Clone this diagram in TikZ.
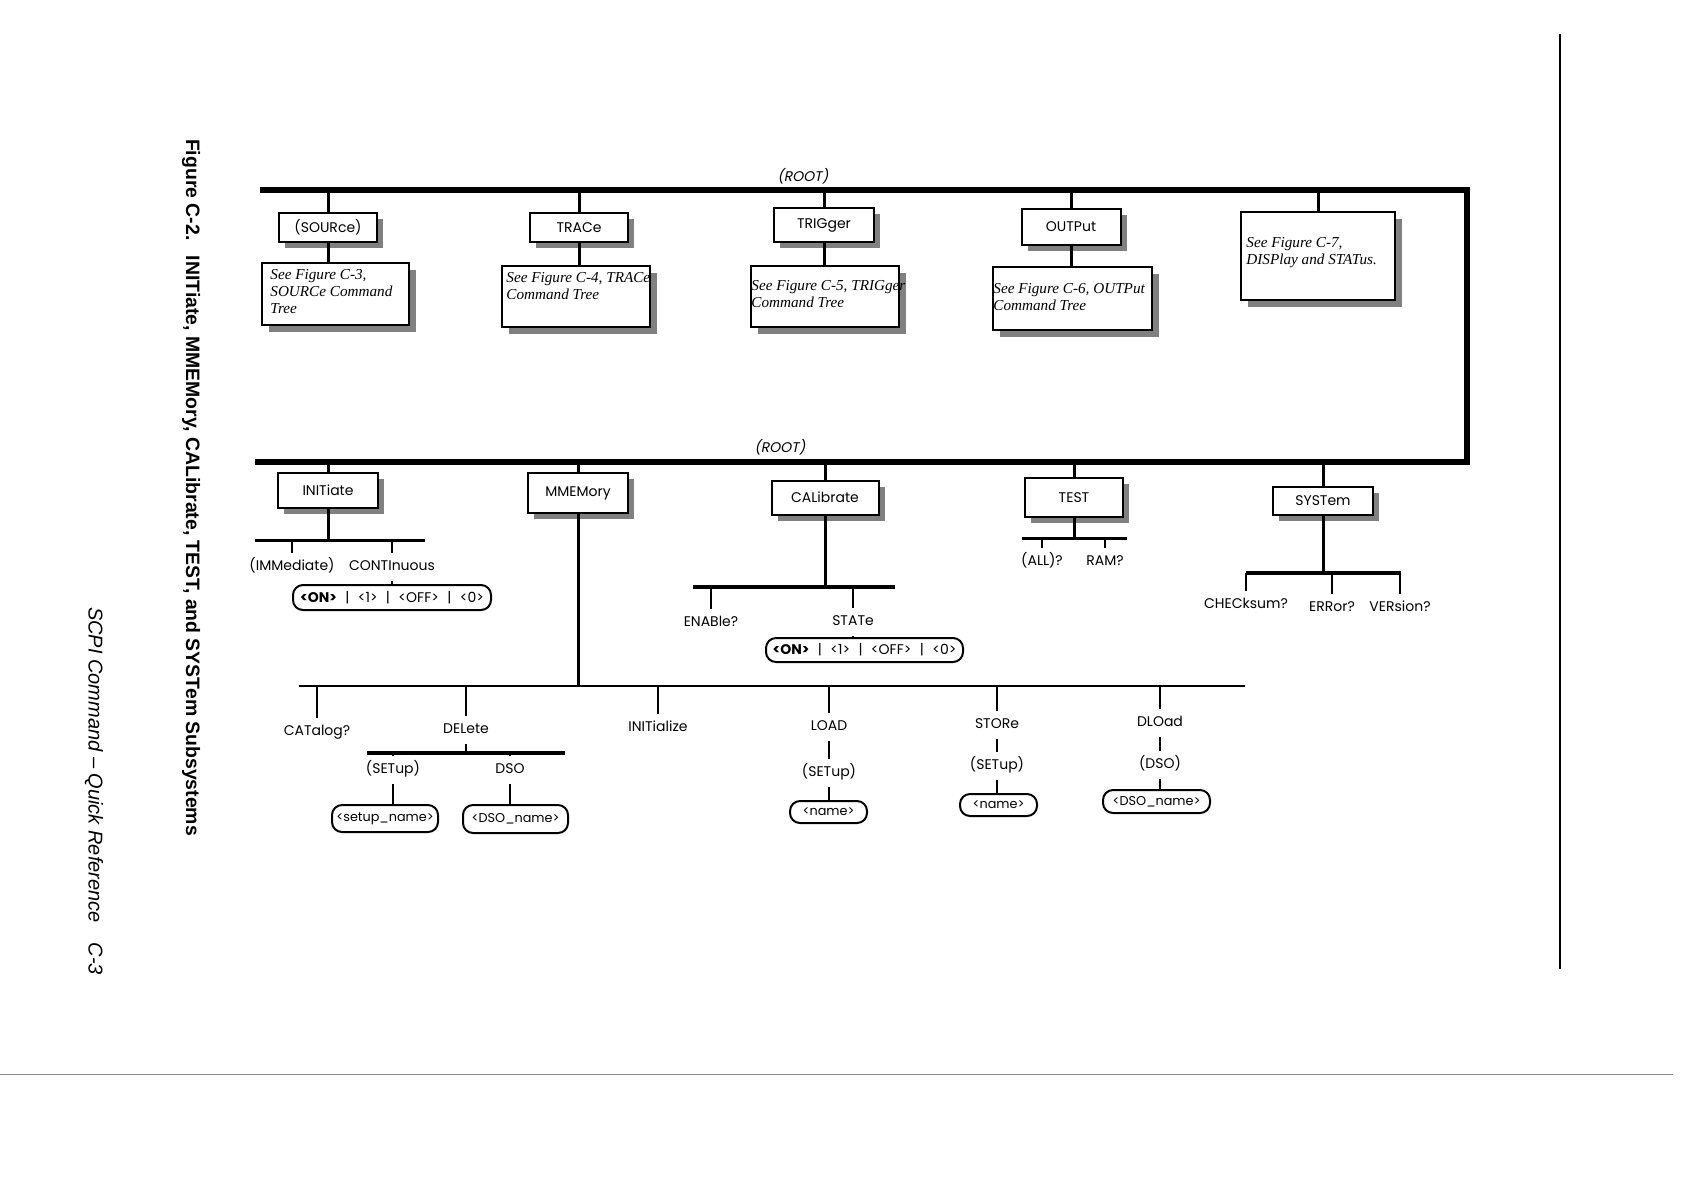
\documentclass[tikz,border=0pt]{standalone}
\usepackage{fontspec}
\newfontfamily\geo{Poppins}
\newfontfamily\geoit{Poppins}[FakeSlant=0.2]
\newfontfamily\arialf{Liberation Sans}
\newfontfamily\timesf{Liberation Serif}
\usetikzlibrary{shadows}
\newcommand\vsep{\hspace{0.6em}|\hspace{0.6em}}
\begin{document}
\begin{tikzpicture}[x=0.5pt,y=-0.5pt,
  cmd/.style={draw, line width=1pt, fill=white, inner sep=0pt,
    font=\geo\fontsize{7}{8}\selectfont,
    drop shadow={shadow xshift=3pt, shadow yshift=-3pt, fill=black!50, opacity=1}},
  seebox/.style={draw, line width=1pt, fill=white, inner sep=0pt,
    drop shadow={shadow xshift=3.5pt, shadow yshift=-3.5pt, fill=black!50, opacity=1}},
  seetext/.style={anchor=north west, inner sep=0pt, align=left,
    font=\timesf\itshape\fontsize{7.6}{8.5}\selectfont},
  lbl/.style={inner xsep=1pt, inner ysep=3.5pt, text height=5pt, text depth=1.5pt,
    font=\geo\fontsize{7}{8}\selectfont},
  valbox/.style={draw, line width=1pt, rounded corners=5pt, inner sep=0pt, fill=white,
    font=\geo\fontsize{7}{8}\selectfont},
  namebox/.style={valbox, font=\geo\fontsize{6.4}{8}\selectfont},
  rootlbl/.style={inner sep=1pt, font=\geoit\fontsize{7}{8}\selectfont},
  rootbar/.style={line width=3pt, line join=miter},
  stem/.style={line width=1.5pt},
  subbar/.style={line width=2pt},
  tick/.style={line width=1.3pt},
]
\useasboundingbox (0,0) rectangle (1684,1190);

% ---------------- root bars ----------------
\coordinate (rtl) at (260,190);
\coordinate (rtr) at (1467,190);
\coordinate (rbr) at (1467,462);
\coordinate (rbl) at (255,462);
\draw[rootbar] (rtl) -- (rtr) -- (rbr) -- (rbl);
\node[rootlbl] (root1) at (803,176) {(ROOT)};
\node[rootlbl] (root2) at (780,447) {(ROOT)};

% ---------------- top row ----------------
\node[cmd, minimum width=49pt, minimum height=14.5pt] (src) at (328,227.5) {(SOURce)};
\node[cmd, minimum width=49pt, minimum height=14.5pt] (trc) at (579,227.5) {TRACe};
\node[cmd, minimum width=50pt, minimum height=17pt] (trg) at (824,225) {TRIGger};
\node[cmd, minimum width=49.5pt, minimum height=18pt] (out) at (1071,226.5) {OUTPut};

\node[seebox, minimum width=73.5pt, minimum height=31pt] (srcsee) at (335.5,294) {};
\node[seebox, minimum width=74pt, minimum height=30.5pt] (trcsee) at (576,296.5) {};
\node[seebox, minimum width=74pt, minimum height=30.5pt] (trgsee) at (825,296.5) {};
\node[seebox, minimum width=79.5pt, minimum height=31.5pt] (outsee) at (1072.5,298.5) {};
\node[seebox, minimum width=77pt, minimum height=44pt] (disp) at (1318,256) {};

\node[seetext] (srcseet) at ([xshift=4.5pt,yshift=-3.5pt]srcsee.north west) {See Figure C-3,\\SOURCe Command\\Tree};
\node[seetext] (trcseet) at ([xshift=2.5pt,yshift=-3.5pt]trcsee.north west) {See Figure C-4, TRACe\\Command Tree};
\node[seetext] (trgseet) at ([xshift=0.5pt,yshift=-7.5pt]trgsee.north west) {See Figure C-5, TRIGger\\Command Tree};
\node[seetext] (outseet) at ([xshift=0.5pt,yshift=-8.5pt]outsee.north west) {See Figure C-6, OUTPut\\Command Tree};
\node[seetext] (dispt) at ([xshift=3pt,yshift=-13pt]disp.north west) {See Figure C-7,\\DISPlay and STATus.};

\foreach \b/\s in {src/srcsee, trc/trcsee, trg/trgsee, out/outsee}{
  \draw[stem] (\b.north |- rtl) -- (\b.north);
  \draw[stem] (\b.south) -- (\b.south |- \s.north);
}
\draw[stem] (disp.north |- rtl) -- (disp.north);

% ---------------- lower row ----------------
\node[cmd, minimum width=50pt, minimum height=17.5pt] (init) at (328,490.5) {INITiate};
\node[cmd, minimum width=50pt, minimum height=20pt] (mmem) at (578,493) {MMEMory};
\node[cmd, minimum width=53.5pt, minimum height=17pt] (cal) at (825,497.5) {CALibrate};
\node[cmd, minimum width=49pt, minimum height=19.5pt] (test) at (1074,497.5) {TEST};
\node[cmd, minimum width=50pt, minimum height=14pt] (sys) at (1323,501) {SYSTem};
\foreach \b in {init,mmem,cal,test,sys}{
  \draw[stem] (\b.north |- rbl) -- (\b.north);
}

% INITiate subtree
\coordinate (ibl) at (255,540);
\coordinate (ibr) at (425,540);
\draw[line width=1.5pt] (ibl) -- (ibr);
\draw[stem] (init.south) -- (init.south |- ibl);
\node[lbl] (imm) at (292,567) {(IMMediate)};
\node[lbl] (cont) at (392,567) {CONTInuous};
\node[valbox, minimum width=99pt, minimum height=12.5pt] (initv) at (392,597.5) {\textbf{<ON>}\vsep<1>\vsep<OFF>\vsep<0>};
\draw[tick] (imm.north |- ibl) -- (imm.north);
\draw[tick] (cont.north |- ibl) -- (cont.north);
\draw[tick] (cont.south) -- (cont.south |- initv.north);

% CALibrate subtree
\coordinate (cbl) at (693,587);
\coordinate (cbr) at (895,587);
\draw[subbar] (cbl) -- (cbr);
\draw[stem] (cal.south) -- (cal.south |- cbl);
\node[lbl] (enab) at (711,623) {ENABle?};
\node[lbl] (state) at (853,622) {STATe};
\node[valbox, minimum width=98.5pt, minimum height=12pt] (statev) at (864.5,650) {\textbf{<ON>}\vsep<1>\vsep<OFF>\vsep<0>};
\draw[tick] (enab.north |- cbl) -- (enab.north);
\draw[tick] (state.north |- cbl) -- (state.north);
\draw[tick] (state.south) -- (state.south |- statev.north);

% TEST subtree
\coordinate (tbl) at (1022,538);
\coordinate (tbr) at (1127,538);
\draw[line width=1.5pt] (tbl) -- (tbr);
\draw[stem] (test.south) -- (test.south |- tbl);
\node[lbl] (all) at (1042,562) {(ALL)?};
\node[lbl] (ram) at (1105,562) {RAM?};
\draw[tick] (all.north |- tbl) -- (all.north);
\draw[tick] (ram.north |- tbl) -- (ram.north);

% SYSTem subtree
\coordinate (sbl) at (1246,573);
\coordinate (sbr) at (1401,573);
\draw[subbar] (sbl) -- (sbr);
\draw[stem] (sys.south) -- (sys.south |- sbl);
\node[lbl] (chk) at (1246,605) {CHECksum?};
\node[lbl] (err) at (1332,608) {ERRor?};
\node[lbl] (ver) at (1400,608) {VERsion?};
\draw[tick] (chk.north |- sbl) -- (chk.north);
\draw[tick] (err.north |- sbl) -- (err.north);
\draw[tick] (ver.north |- sbl) -- (ver.north);

% MMEMory subtree
\coordinate (mbl) at (299,686);
\coordinate (mbr) at (1245,686);
\draw[line width=1.2pt] (mbl) -- (mbr);
\draw[stem] (mmem.south) -- (mmem.south |- mbl);
\node[lbl] (cat) at (317,732) {CATalog?};
\node[lbl] (del) at (466,730) {DELete};
\node[lbl] (initz) at (658,728) {INITialize};
\node[lbl] (load) at (829,727) {LOAD};
\node[lbl] (store) at (997,725) {STORe};
\node[lbl] (dload) at (1160,723) {DLOad};
\foreach \n in {cat,del,initz,load,store,dload}{
  \draw[tick] (\n.north |- mbl) -- (\n.north);
}

% DELete subtree
\coordinate (dbl) at (367,753);
\coordinate (dbr) at (565,753);
\draw[subbar] (dbl) -- (dbr);
\draw[tick] (del.south) -- (del.south |- dbl);
\node[lbl] (dsetup) at (393,770) {(SETup)};
\node[lbl] (ddso) at (510,770) {DSO};
\node[namebox, minimum width=53pt, minimum height=13.5pt] (setupn) at (385,818.5) {<setup\_name>};
\node[namebox, minimum width=52.5pt, minimum height=14pt] (dson) at (515.5,819) {<DSO\_name>};
\draw[tick] (dsetup.north |- dbl) -- (dsetup.north);
\draw[tick] (ddso.north |- dbl) -- (ddso.north);
\draw[tick] (dsetup.south) -- (dsetup.south |- setupn.north);
\draw[tick] (ddso.south) -- (ddso.south |- dson.north);

% LOAD / STORe / DLOad
\node[lbl] (lsetup) at (829,773) {(SETup)};
\node[namebox, minimum width=38.5pt, minimum height=11pt] (lname) at (828.5,812) {<name>};
\node[lbl] (ssetup) at (997,766) {(SETup)};
\node[namebox, minimum width=38.5pt, minimum height=11pt] (sname) at (998.5,805) {<name>};
\node[lbl] (dldso) at (1160,765) {(DSO)};
\node[namebox, minimum width=53.5pt, minimum height=11.5pt] (dname) at (1156.5,801.5) {<DSO\_name>};
\draw[tick] (load.south) -- (lsetup.north);
\draw[tick] (lsetup.south) -- (lsetup.south |- lname.north);
\draw[tick] (store.south) -- (ssetup.north);
\draw[tick] (ssetup.south) -- (ssetup.south |- sname.north);
\draw[tick] (dload.south) -- (dldso.north);
\draw[tick] (dldso.south) -- (dldso.south |- dname.north);

% ---------------- page text and rules ----------------
\node[rotate=-90, inner sep=0pt, font=\arialf\bfseries\fontsize{9.7}{11}\selectfont] (cap) at (191,487.5)
  {Figure C-2.\hspace{0.8em}INITiate, MMEMory, CALibrate, TEST, and SYSTem Subsystems};
\node[rotate=-90, inner sep=0pt, font=\arialf\itshape\fontsize{10}{12}\selectfont] (foot) at (94,791)
  {SCPI Command – Quick Reference\hspace{1em}C-3};
\coordinate (pr1) at (1560,34);
\coordinate (pr2) at (1560,969);
\draw[line width=1pt] (pr1) -- (pr2);
\coordinate (pb1) at (0,1074);
\coordinate (pb2) at (1673,1074);
\draw[line width=0.5pt, black!45] (pb1) -- (pb2);
\end{tikzpicture}
\end{document}
